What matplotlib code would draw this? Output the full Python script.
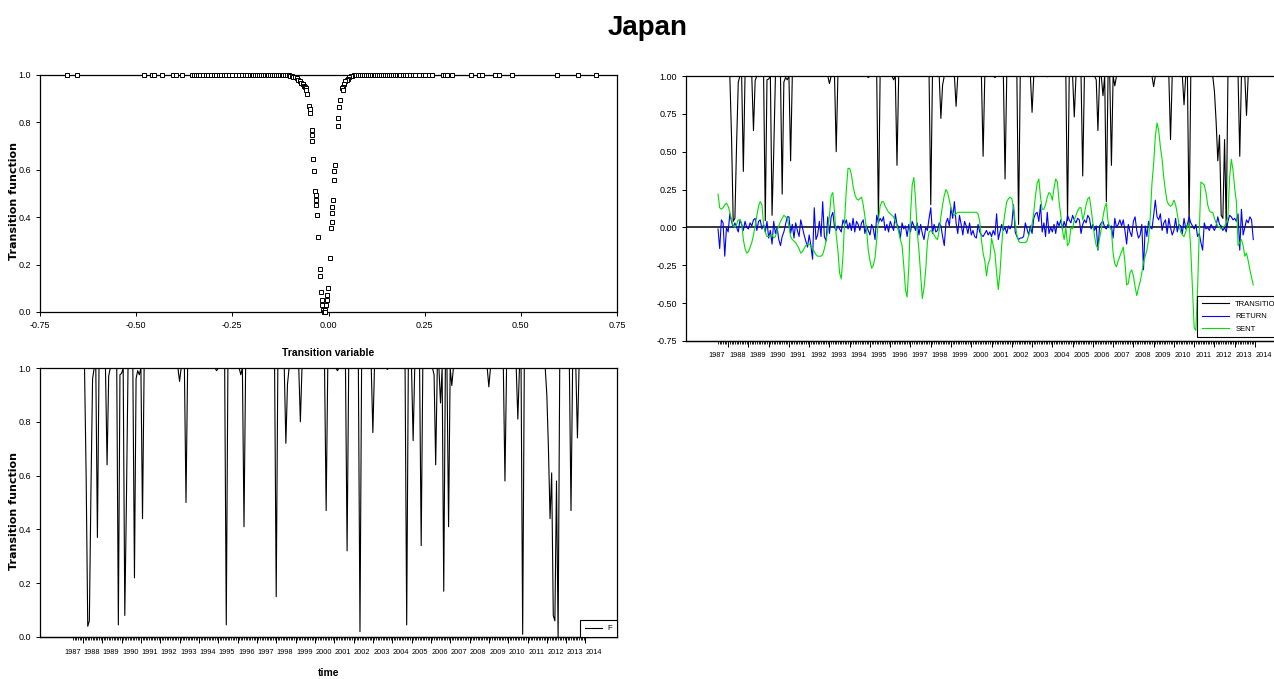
# Japan: transition function (scatter + time series) and return / sentiment series
import numpy as np
import matplotlib
matplotlib.use('Agg')
import matplotlib.pyplot as plt

# ---------------- data ----------------
# monthly series, 1987-07 .. 2013-12 (one row per calendar year)
sent = [0.22, 0.13, 0.12, 0.13, 0.15, 0.16,
        0.14, 0.10, 0.05, 0.01, 0.00, 0.02, 0.05, 0.05, 0.03, -0.08, -0.14, -0.17,
        -0.16, -0.13, -0.10, -0.05, 0.01, 0.08, 0.14, 0.17, 0.15, 0.02, -0.03, -0.06,
        -0.06, -0.05, -0.05, -0.07, -0.06, -0.02, 0.01, 0.04, 0.06, 0.08, 0.07, 0.06,
        0.01, -0.06, -0.08, -0.09, -0.10, -0.12, -0.14, -0.17, -0.16, -0.14, -0.12, -0.11,
        -0.11, -0.12, -0.14, -0.16, -0.18, -0.19, -0.19, -0.19, -0.18, -0.14, -0.09, -0.02,
        0.08, 0.21, 0.23, 0.10, -0.05, -0.15, -0.30, -0.34, -0.19, 0.05, 0.25, 0.39,
        0.39, 0.35, 0.27, 0.22, 0.19, 0.18, 0.19, 0.20, 0.15, 0.07, -0.02, -0.15,
        -0.22, -0.27, -0.25, -0.20, -0.08, 0.05, 0.14, 0.17, 0.17, 0.14, 0.12, 0.10,
        0.09, 0.08, 0.07, 0.04, 0.01, -0.03, -0.08, -0.12, -0.25, -0.41, -0.46, -0.26,
        0.08, 0.28, 0.33, 0.18, -0.03, -0.15, -0.31, -0.47, -0.40, -0.28, -0.10, -0.03,
        -0.02, -0.03, -0.05, -0.07, -0.08, -0.02, 0.07, 0.15, 0.21, 0.25, 0.23, 0.18,
        0.13, 0.10, 0.08, 0.09, 0.10, 0.10, 0.10, 0.10, 0.10, 0.10, 0.10, 0.10,
        0.10, 0.10, 0.10, 0.10, 0.09, 0.04, -0.08, -0.17, -0.22, -0.32, -0.24, -0.21,
        -0.07, -0.12, -0.17, -0.30, -0.41, -0.30, -0.12, 0.02, 0.10, 0.17, 0.19, 0.20,
        0.19, 0.13, 0.03, -0.05, -0.09, -0.10, -0.10, -0.10, -0.10, -0.09, -0.05, -0.02,
        0.02, 0.10, 0.21, 0.29, 0.32, 0.20, 0.12, 0.12, 0.15, 0.20, 0.23, 0.22,
        0.18, 0.26, 0.32, 0.30, 0.17, 0.08, -0.02, -0.08, 0.00, -0.12, -0.10, 0.00,
        -0.01, 0.05, 0.08, 0.11, 0.13, 0.13, 0.05, 0.09, 0.15, 0.19, 0.20, 0.12,
        0.03, -0.06, -0.12, -0.14, -0.07, -0.01, 0.07, 0.13, 0.16, 0.04, 0.00, -0.02,
        -0.17, -0.24, -0.26, -0.22, -0.19, -0.16, -0.13, -0.23, -0.38, -0.37, -0.30, -0.28,
        -0.32, -0.39, -0.45, -0.40, -0.36, -0.30, -0.23, -0.19, -0.15, -0.08, 0.07, 0.29,
        0.42, 0.60, 0.69, 0.64, 0.53, 0.45, 0.33, 0.24, 0.17, 0.15, 0.14, 0.15,
        0.18, 0.15, 0.09, 0.02, -0.03, -0.05, -0.06, -0.03, 0.01, 0.03, -0.15, -0.41,
        -0.66, -0.68, -0.41, -0.04, 0.30, 0.29, 0.28, 0.23, 0.15, 0.11, 0.10, 0.10,
        0.06, 0.03, 0.01, 0.00, -0.01, 0.00, 0.01, 0.03, 0.07, 0.33, 0.45, 0.38,
        0.26, 0.17, -0.12, -0.10, -0.08, -0.12, -0.19, -0.17, -0.22, -0.28, -0.33, -0.38]

ret = [-0.01, -0.14, 0.05, 0.03, -0.19, 0.00,
       -0.03, 0.09, 0.04, 0.00, 0.03, 0.00, -0.03, 0.05, 0.02, -0.02, 0.04, 0.00,
       -0.01, 0.03, 0.01, 0.05, 0.06, -0.02, 0.04, 0.05, -0.01, 0.02, -0.03, 0.04,
       -0.07, -0.02, -0.11, 0.04, -0.04, 0.00, -0.08, -0.12, -0.06, -0.03, 0.02, 0.07,
       0.07, -0.04, 0.02, -0.07, 0.03, -0.02, -0.06, 0.05, 0.00, -0.05, -0.09, -0.13,
       -0.05, -0.12, -0.21, 0.13, -0.08, -0.05, 0.04, -0.06, 0.17, -0.06, -0.09, 0.07,
       -0.04, 0.07, 0.10, 0.00, -0.02, 0.01, -0.01, -0.03, 0.05, 0.02, 0.05, -0.01,
       0.03, -0.02, 0.06, -0.03, 0.04, 0.02, -0.02, 0.03, 0.05, -0.04, 0.01, -0.02,
       -0.05, 0.02, -0.01, -0.08, 0.08, 0.03, 0.06, 0.04, 0.07, -0.02, 0.02, -0.03,
       0.04, 0.01, -0.02, 0.09, 0.02, 0.00, -0.07, 0.03, -0.01, 0.01, -0.06, 0.02,
       -0.03, 0.04, 0.01, -0.02, 0.03, -0.05, 0.02, -0.04, -0.08, 0.00, -0.02, 0.06,
       0.13, -0.04, 0.02, -0.03, -0.02, 0.03, 0.01, -0.06, -0.12, 0.03, 0.06, 0.01,
       0.13, 0.06, 0.17, 0.03, -0.04, 0.08, 0.02, -0.05, 0.04, 0.01, -0.04, 0.03,
       -0.05, -0.02, -0.06, -0.07, 0.02, -0.03, -0.05, -0.06, -0.04, -0.02, -0.05, -0.03,
       -0.06, -0.02, -0.05, 0.09, -0.08, -0.03, 0.02, -0.02, 0.00, -0.04, 0.01, -0.01,
       0.02, 0.15, -0.03, -0.06, -0.08, -0.07, -0.07, -0.06, 0.03, -0.01, -0.05, 0.01,
       -0.04, 0.06, 0.09, 0.10, 0.04, 0.15, -0.03, 0.03, -0.06, 0.10, -0.04, 0.00,
       -0.03, 0.02, -0.04, 0.04, 0.01, 0.05, -0.01, 0.04, 0.00, 0.08, 0.05, 0.03,
       0.08, 0.05, 0.03, 0.06, 0.05, -0.04, 0.02, 0.05, 0.03, 0.08, 0.06, -0.01,
       0.02, -0.02, 0.01, -0.15, 0.01, 0.03, 0.04, 0.00, -0.01, 0.02, 0.00, 0.01,
       -0.07, 0.06, 0.00, 0.02, 0.05, 0.01, 0.05, -0.02, -0.11, 0.02, -0.03, -0.06,
       0.04, 0.07, -0.02, -0.07, -0.05, 0.02, -0.28, 0.01, -0.06, 0.04, 0.00, -0.01,
       0.08, 0.18, 0.07, 0.05, 0.09, -0.02, 0.03, 0.05, -0.04, 0.06, 0.00, -0.05,
       -0.02, 0.06, -0.03, 0.02, 0.01, -0.04, 0.06, -0.01, 0.02, 0.07, 0.03, 0.01,
       -0.01, 0.02, -0.06, -0.04, -0.10, -0.15, 0.03, -0.01, 0.00, -0.02, 0.02, 0.00,
       -0.02, 0.01, 0.07, 0.02, 0.01, -0.02, 0.00, -0.03, 0.04, 0.08, 0.07, 0.05,
       0.06, 0.04, 0.09, -0.15, 0.12, -0.05, 0.00, 0.05, 0.03, 0.07, 0.05, -0.08]

# transition function is 1 except in these months (months counted from 1987-07)
f_dip_month = [8, 9, 10, 11, 12, 15, 21, 22, 28, 29, 30, 32, 33, 38, 39, 40, 41, 43,
               66, 70, 89, 95, 104, 106, 126, 132, 133, 141, 157, 164, 170, 178, 186,
               195, 207, 211, 216, 224, 225, 228, 230, 233, 235, 258, 268, 276, 279,
               294, 295, 296, 297, 298, 299, 300, 301, 309, 313]
f_dip_value = [0.6, 0.04, 0.06, 0.55, 0.96, 0.37, 0.64, 0.97, 0.045, 0.975, 0.98, 0.08, 0.5,
               0.22, 0.96, 0.99, 0.975, 0.44, 0.95, 0.50, 0.99, 0.045, 0.975, 0.41, 0.15,
               0.72, 0.94, 0.8, 0.47, 0.99, 0.32, 0.02, 0.76, 0.995, 0.045, 0.73, 0.34,
               0.975, 0.64, 0.87, 0.17, 0.41, 0.935, 0.93, 0.58, 0.81, 0.01,
               0.9, 0.7, 0.44, 0.61, 0.08, 0.06, 0.58, 0.0, 0.47, 0.74]

# scatter: transition variable vs transition function
tv_at_one = [-0.68, -0.655, -0.48, -0.46, -0.453, -0.433, -0.403, -0.396, -0.381, -0.355,
             -0.35, -0.344, -0.338, -0.333, -0.327, -0.318, -0.312, -0.305, -0.298, -0.292,
             -0.285, -0.279, -0.272, -0.266, -0.258, -0.25, -0.24, -0.232, -0.224, -0.216,
             -0.211, -0.205, -0.2, -0.195, -0.19, -0.186, -0.181, -0.176, -0.171, -0.166,
             -0.161, -0.156, -0.151, -0.146, -0.141, -0.136, -0.131, -0.126, -0.121, -0.117,
             -0.113, 0.072, 0.077, 0.082, 0.087, 0.092, 0.097, 0.102, 0.107, 0.112, 0.117,
             0.122, 0.127, 0.132, 0.137, 0.142, 0.147, 0.152, 0.157, 0.162, 0.167, 0.172,
             0.177, 0.182, 0.187, 0.193, 0.199, 0.205, 0.212, 0.219, 0.226, 0.236, 0.245,
             0.252, 0.26, 0.268, 0.298, 0.302, 0.308, 0.322, 0.37, 0.39, 0.40, 0.433, 0.444,
             0.476, 0.594, 0.649, 0.695]
tv_curve = [-0.108, -0.103, -0.099, -0.095, -0.091, -0.087, -0.083, -0.079, -0.075, -0.071,
            -0.067, -0.064, -0.061, -0.0585, -0.0585, -0.0568, -0.0498, -0.0481, -0.0481,
            -0.0438, -0.0438, -0.0421, -0.0395, -0.0377, -0.0343, -0.0334, -0.0334, -0.0325,
            -0.0308, -0.0282, -0.0221, -0.0221, -0.0195, -0.0178, -0.0161, -0.0135, -0.0109,
            -0.0091, 0.066, 0.062, 0.058, 0.054, 0.05, 0.047, 0.044, 0.041, 0.038, 0.0342,
            0.0368, 0.0299, 0.0281, 0.0255, 0.0238, 0.0169, 0.0151, 0.0143, 0.0108, 0.0099,
            0.0082, 0.0082, 0.0065, 0.0039, -0.0022, -0.0048, -0.0048, -0.0074, -0.0083,
            -0.0091]
tf_curve = [0.999, 0.998, 0.997, 0.995, 0.993, 0.99, 0.986, 0.981, 0.975, 0.968,
            0.96, 0.953, 0.95, 0.946, 0.935, 0.918, 0.869, 0.857, 0.840,
            0.766, 0.745, 0.721, 0.646, 0.593, 0.509, 0.494, 0.473, 0.452,
            0.410, 0.318, 0.181, 0.153, 0.085, 0.050, 0.028, 0.007, 0.0,
            0.0, 0.999, 0.997, 0.994, 0.99, 0.985, 0.98, 0.975, 0.963, 0.95, 0.946,
            0.935, 0.893, 0.865, 0.819, 0.784, 0.621, 0.593, 0.558, 0.473, 0.445,
            0.417, 0.381, 0.353, 0.229, 0.102, 0.071, 0.050, 0.028, 0.007,
            0.0]

years = np.arange(1987, 2015)
legend_labels = ['TRANSITION', 'RETURN', 'SENT']

# ---------------- figure ----------------
W, H = 1274, 679
plt.rcParams['font.family'] = ['Liberation Sans', 'DejaVu Sans']
plt.rcParams['axes.linewidth'] = 0.9

t = 1987.5 + np.arange(len(sent)) / 12.0
trans = np.ones(len(sent))
trans[f_dip_month] = f_dip_value

fig = plt.figure(figsize=(W / 100, H / 100), dpi=100)
fig.text(648 / W, 1 - 28 / H, 'Japan', ha='center', va='center',
         fontsize=20, fontweight='bold')


def px_axes(l, t_, r, b):
    return fig.add_axes([l / W, 1 - b / H, (r - l) / W, (b - t_) / H])


def time_axis(ax, pad):
    ax.set_xticks(years + 0.45, [str(y) for y in years])
    ax.set_xticks(t, minor=True)
    ax.tick_params(axis='x', which='major', length=0, labelsize=5.3, pad=pad)
    ax.tick_params(axis='x', which='minor', length=2, width=0.6)
    sec = ax.secondary_xaxis('bottom')
    sec.set_xticks(np.arange(1988, 2015))
    sec.tick_params(axis='x', length=4, width=0.7, labelbottom=False)


ylab_font = dict(family='DejaVu Sans', fontweight='bold', fontsize=8)

# top-left: scatter
ax1 = px_axes(40, 75, 617, 312)
mk = dict(ls='none', marker='s', ms=3.3, mfc='white', mec='black', mew=0.7,
          clip_on=False, zorder=3)
ax1.plot(tv_at_one, np.ones(len(tv_at_one)), **mk)
ax1.plot(tv_curve, tf_curve, **mk)
ax1.set_xlim(-0.75, 0.75)
ax1.set_ylim(0, 1)
ax1.set_xticks([-0.75, -0.5, -0.25, 0, 0.25, 0.5, 0.75],
               ['-0.75', '-0.50', '-0.25', '0.00', '0.25', '0.50', '0.75'])
ax1.set_yticks(np.arange(0, 1.01, 0.2), ['0.0', '0.2', '0.4', '0.6', '0.8', '1.0'])
ax1.tick_params(labelsize=6.5, length=3, width=0.7)
ax1.set_xlabel('Transition variable', fontsize=7.5, fontweight='bold')
ax1.xaxis.set_label_coords(0.5, -0.15)
ax1.set_ylabel('Transition function', **ylab_font)
ax1.yaxis.set_label_coords(-0.036, 0.47)

# top-right: series
ax2 = px_axes(686, 76, 1290, 341)
ax2.plot(t, trans, color='black', lw=0.8, label=legend_labels[0])
ax2.plot(t, ret, color='#0000ff', lw=0.8, label=legend_labels[1])
ax2.plot(t, sent, color='#00e000', lw=0.8, label=legend_labels[2])
ax2.axhline(0, color='black', lw=1.1, zorder=1)
ax2.set_xlim(1985.92, 2015.73)
ax2.set_ylim(-0.75, 1.0)
ax2.set_yticks(np.arange(-0.75, 1.01, 0.25),
               ['%.2f' % v for v in np.arange(-0.75, 1.01, 0.25)])
ax2.tick_params(axis='y', labelsize=6.5, length=3, width=0.7)
time_axis(ax2, 8)
leg = ax2.legend(loc='upper left', bbox_to_anchor=(1197 / W, 1 - 296 / H),
                 bbox_transform=fig.transFigure, fontsize=5.5, fancybox=False,
                 edgecolor='black', framealpha=1, handlelength=3.6,
                 borderpad=0.6, labelspacing=0.65, borderaxespad=0)
leg.get_frame().set_linewidth(0.8)

# bottom-left: transition function over time
ax3 = px_axes(40, 368, 617, 637)
ax3.plot(t, trans, color='black', lw=0.8, label='F')
ax3.set_xlim(1985.78, 2015.63)
ax3.set_ylim(0, 1)
ax3.set_yticks(np.arange(0, 1.01, 0.2), ['0.0', '0.2', '0.4', '0.6', '0.8', '1.0'])
ax3.tick_params(axis='y', labelsize=6.5, length=3, width=0.7)
time_axis(ax3, 9)
ax3.set_xlabel('time', fontsize=7.5, fontweight='bold')
ax3.xaxis.set_label_coords(0.5, -0.115)
ax3.set_ylabel('Transition function', **ylab_font)
ax3.yaxis.set_label_coords(-0.036, 0.47)
leg3 = ax3.legend(loc='lower right', fontsize=5.5, fancybox=False, edgecolor='black',
                  framealpha=1, handlelength=2.2, borderaxespad=0, borderpad=0.6)
leg3.get_frame().set_linewidth(0.8)

fig.savefig('out.png', dpi=100)
